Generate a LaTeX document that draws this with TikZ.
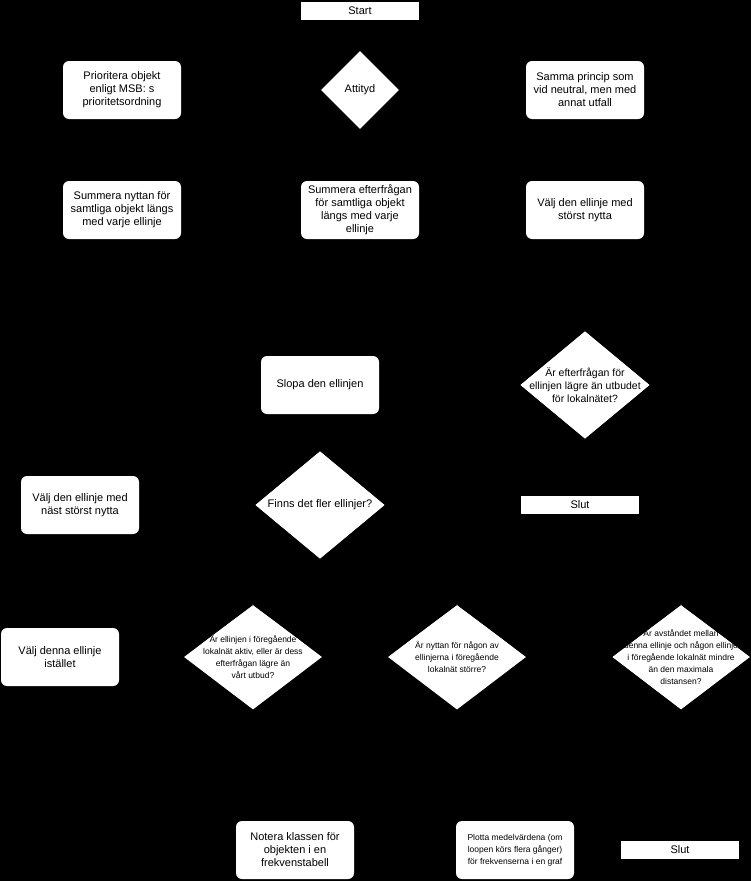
\documentclass[tikz,border=0pt]{standalone}
\usepackage{fontspec}
\setmainfont{Liberation Sans}
\usetikzlibrary{shapes.geometric}
\begin{document}
\begin{tikzpicture}[x=1pt,y=-1pt,
 box/.style={fill=white,draw=none,rounded corners=6pt,minimum width=118pt,minimum height=58pt,align=center,font=\fontsize{11}{13}\selectfont,inner sep=0pt},
 term/.style={fill=white,draw=none,minimum width=118pt,minimum height=18pt,inner sep=0pt,font=\fontsize{11}{13}\selectfont},
 dia/.style={fill=white,draw=none,diamond,minimum width=#1,inner sep=0pt,align=center,font=\fontsize{8.5}{12}\selectfont}]
\fill[black] (0,0) rectangle (751,881);
\node[term] (start) at (360,11) {Start};
\node[box] (prio) at (122,90) {Prioritera objekt\\enligt MSB: s\\prioritetsordning};
\node[fill=white,diamond,minimum width=78pt,minimum height=78pt,inner sep=0pt,aspect=1,font=\fontsize{11}{13}\selectfont] (att) at (360,90) {Attityd};
\node[box] (samma) at (585,90) {Samma princip som\\vid neutral, men med\\annat utfall};
\node[box] (sumn) at (122,210) {Summera nyttan för\\samtliga objekt längs\\med varje ellinje};
\node[box] (sume) at (360,210) {Summera efterfrågan\\för samtliga objekt\\längs med varje\\ellinje};
\node[box] (valj) at (585,210) {Välj den ellinje med\\störst nytta};
\node[box] (slopa) at (320,385) {Slopa den ellinjen};
\node[fill=white,diamond,minimum width=130pt,minimum height=108pt,inner sep=0pt,align=center,font=\fontsize{10.5}{13}\selectfont] (arE) at (585,385) {\phantom{x}};
\node[align=center,font=\fontsize{10.5}{13}\selectfont] at (585,385) {Är efterfrågan för\\ellinjen lägre än utbudet\\för lokalnätet?};
\node[box] (nast) at (80,505) {Välj den ellinje med\\näst störst nytta};
\node[fill=white,diamond,minimum width=130pt,minimum height=108pt,inner sep=0pt,font=\fontsize{11}{13}\selectfont] (finns) at (320,505) {\phantom{x}};
\node[font=\fontsize{11}{13}\selectfont] at (320,505) {Finns det fler ellinjer?};
\node[term] (slut1) at (580,505) {Slut};
\node[box] (denna) at (60,657) {Välj denna ellinje\\istället};
\foreach \n/\x in {d1/253,d2/457,d3/681}{
 \node[fill=white,diamond,minimum width=138pt,minimum height=105pt,inner sep=0pt] (\n) at (\x,657) {\phantom{x}};}
\node[align=center,font=\fontsize{8.5}{12}\selectfont] at (253,657) {Är ellinjen i föregående\\lokalnät aktiv, eller är dess\\efterfrågan lägre än\\vårt utbud?};
\node[align=center,font=\fontsize{8.5}{12}\selectfont] at (457,657) {Är nyttan för någon av\\ellinjerna i föregående\\lokalnät större?};
\node[align=center,font=\fontsize{8.5}{12}\selectfont] at (681,657) {Är avståndet mellan\\denna ellinje och någon ellinje\\i föregående lokalnät mindre\\än den maximala\\distansen?};
\fill[black] (611,600) -- (681,605) -- (612,657) -- cycle;
\fill[black] (681,605) -- (751,657) -- (751,600) -- cycle;
\fill[black] (612,657) -- (681,710) -- (600,715) -- cycle;
\fill[black] (681,710) -- (751,657) -- (751,715) -- cycle;
\fill[black] (180,600) -- (253,605) -- (183,657) -- cycle;
\fill[black] (253,605) -- (323,657) -- (330,600) -- cycle;
\fill[black] (183,657) -- (253,710) -- (175,715) -- cycle;
\fill[black] (253,710) -- (323,657) -- (330,715) -- cycle;
\fill[black] (385,600) -- (457,605) -- (387,657) -- cycle;
\fill[black] (457,605) -- (527,657) -- (535,600) -- cycle;
\fill[black] (515,325) -- (585,331) -- (520,385) -- cycle;
\fill[black] (585,331) -- (650,385) -- (660,325) -- cycle;
\fill[black] (520,385) -- (585,439) -- (510,445) -- cycle;
\fill[black] (585,439) -- (650,385) -- (660,445) -- cycle;
\fill[black] (250,445) -- (320,451) -- (255,505) -- cycle;
\fill[black] (320,451) -- (385,505) -- (395,445) -- cycle;
\fill[black] (255,505) -- (320,559) -- (245,565) -- cycle;
\fill[black] (320,559) -- (385,505) -- (395,565) -- cycle;
\node[box] (notera) at (295,850) {Notera klassen för\\objekten i en\\frekvenstabell};
\node[box,font=\fontsize{8.5}{12}\selectfont] (plotta) at (515,850) {Plotta medelvärdena (om\\loopen körs flera gånger)\\för frekvenserna i en graf};
\node[term] (slut2) at (680,850) {Slut};
\end{tikzpicture}
\end{document}
